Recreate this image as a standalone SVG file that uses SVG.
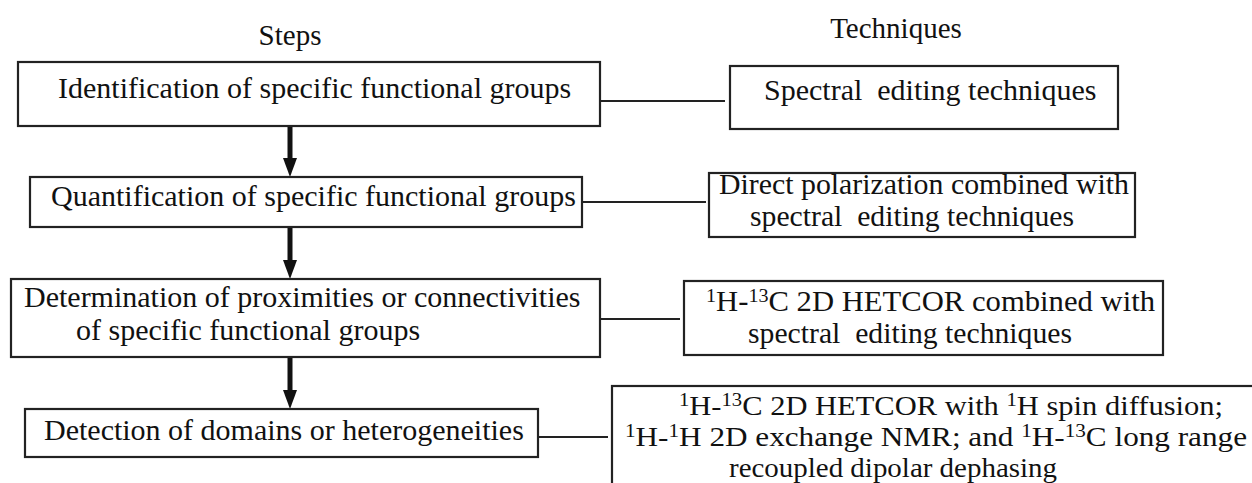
<svg xmlns="http://www.w3.org/2000/svg" width="1252" height="483" viewBox="0 0 1252 483">
<defs>
<style>
.t{font-family:"Liberation Serif","Times New Roman",serif;font-size:30px;fill:#111;}
.t2{font-family:"Liberation Serif","Times New Roman",serif;font-size:29px;fill:#111;}
.t3{font-family:"Liberation Serif","Times New Roman",serif;font-size:28px;fill:#111;}
.h{font-family:"Liberation Serif","Times New Roman",serif;font-size:29px;fill:#111;}
.box{fill:#fff;stroke:#222;stroke-width:2.2;}
.conn{stroke:#222;stroke-width:2;fill:none;}
.arr{stroke:#111;stroke-width:5;fill:none;}
.sup{font-size:19px;}
.head{fill:#111;}
</style>
</defs>
<rect width="1252" height="483" fill="#fff"/>
<text class="h" x="290" y="45" text-anchor="middle">Steps</text>
<text class="h" x="896" y="38" text-anchor="middle">Techniques</text>

<g id="connectors">
<line class="conn" x1="600" y1="101" x2="725" y2="101"/>
<line class="conn" x1="582" y1="202" x2="706" y2="202"/>
<line class="conn" x1="600" y1="319" x2="680" y2="319"/>
<line class="conn" x1="538" y1="437" x2="608" y2="437"/>
<line class="arr" x1="290" y1="127" x2="290" y2="160"/>
<path class="head" d="M283,158 L297,158 L290,177 Z"/>
<line class="arr" x1="290" y1="228" x2="290" y2="262"/>
<path class="head" d="M283,260 L297,260 L290,279 Z"/>
<line class="arr" x1="290" y1="358" x2="290" y2="392"/>
<path class="head" d="M283,390 L297,390 L290,409 Z"/>
</g>

<g id="step1">
<rect class="box" x="18" y="62" width="582" height="64"/>
<text class="t" x="58" y="98">Identification of specific functional groups</text>
</g>
<g id="step2">
<rect class="box" x="30" y="177" width="552" height="50"/>
<text class="t" x="51" y="206">Quantification of specific functional groups</text>
</g>
<g id="step3">
<rect class="box" x="11" y="279" width="589" height="78"/>
<text class="t" x="24" y="307">Determination of proximities or connectivities</text>
<text class="t" x="76" y="340">of specific functional groups</text>
</g>
<g id="step4">
<rect class="box" x="25" y="409" width="513" height="48"/>
<text class="t" x="44" y="440">Detection of domains or heterogeneities</text>
</g>

<g id="tech1">
<rect class="box" x="730" y="66" width="388" height="63"/>
<text class="t" x="764" y="100" xml:space="preserve">Spectral  editing techniques</text>
</g>
<g id="tech2">
<rect class="box" x="709" y="173" width="426" height="64"/>
<text class="t2" x="719" y="194" textLength="410" lengthAdjust="spacingAndGlyphs">Direct polarization combined with</text>
<text class="t2" x="750" y="226" textLength="324" lengthAdjust="spacingAndGlyphs" xml:space="preserve">spectral  editing techniques</text>
</g>
<g id="tech3">
<rect class="box" x="684" y="281" width="479" height="74"/>
<text class="t2" x="706" y="311" textLength="449" lengthAdjust="spacingAndGlyphs"><tspan class="sup" dy="-9">1</tspan><tspan dy="9">H-</tspan><tspan class="sup" dy="-9">13</tspan><tspan dy="9">C 2D HETCOR combined with</tspan></text>
<text class="t2" x="748" y="343" textLength="324" lengthAdjust="spacingAndGlyphs" xml:space="preserve">spectral  editing techniques</text>
</g>
<g id="tech4">
<rect class="box" x="612" y="386" width="680" height="140"/>
<text class="t3" x="679" y="415" textLength="544" lengthAdjust="spacingAndGlyphs"><tspan class="sup" dy="-9">1</tspan><tspan dy="9">H-</tspan><tspan class="sup" dy="-9">13</tspan><tspan dy="9">C 2D HETCOR with </tspan><tspan class="sup" dy="-9">1</tspan><tspan dy="9">H spin diffusion;</tspan></text>
<text class="t3" x="625" y="446" textLength="622" lengthAdjust="spacingAndGlyphs"><tspan class="sup" dy="-9">1</tspan><tspan dy="9">H-</tspan><tspan class="sup" dy="-9">1</tspan><tspan dy="9">H 2D exchange NMR; and </tspan><tspan class="sup" dy="-9">1</tspan><tspan dy="9">H-</tspan><tspan class="sup" dy="-9">13</tspan><tspan dy="9">C long range</tspan></text>
<text class="t3" x="729" y="477" textLength="328" lengthAdjust="spacingAndGlyphs">recoupled dipolar dephasing</text>
</g>
</svg>
